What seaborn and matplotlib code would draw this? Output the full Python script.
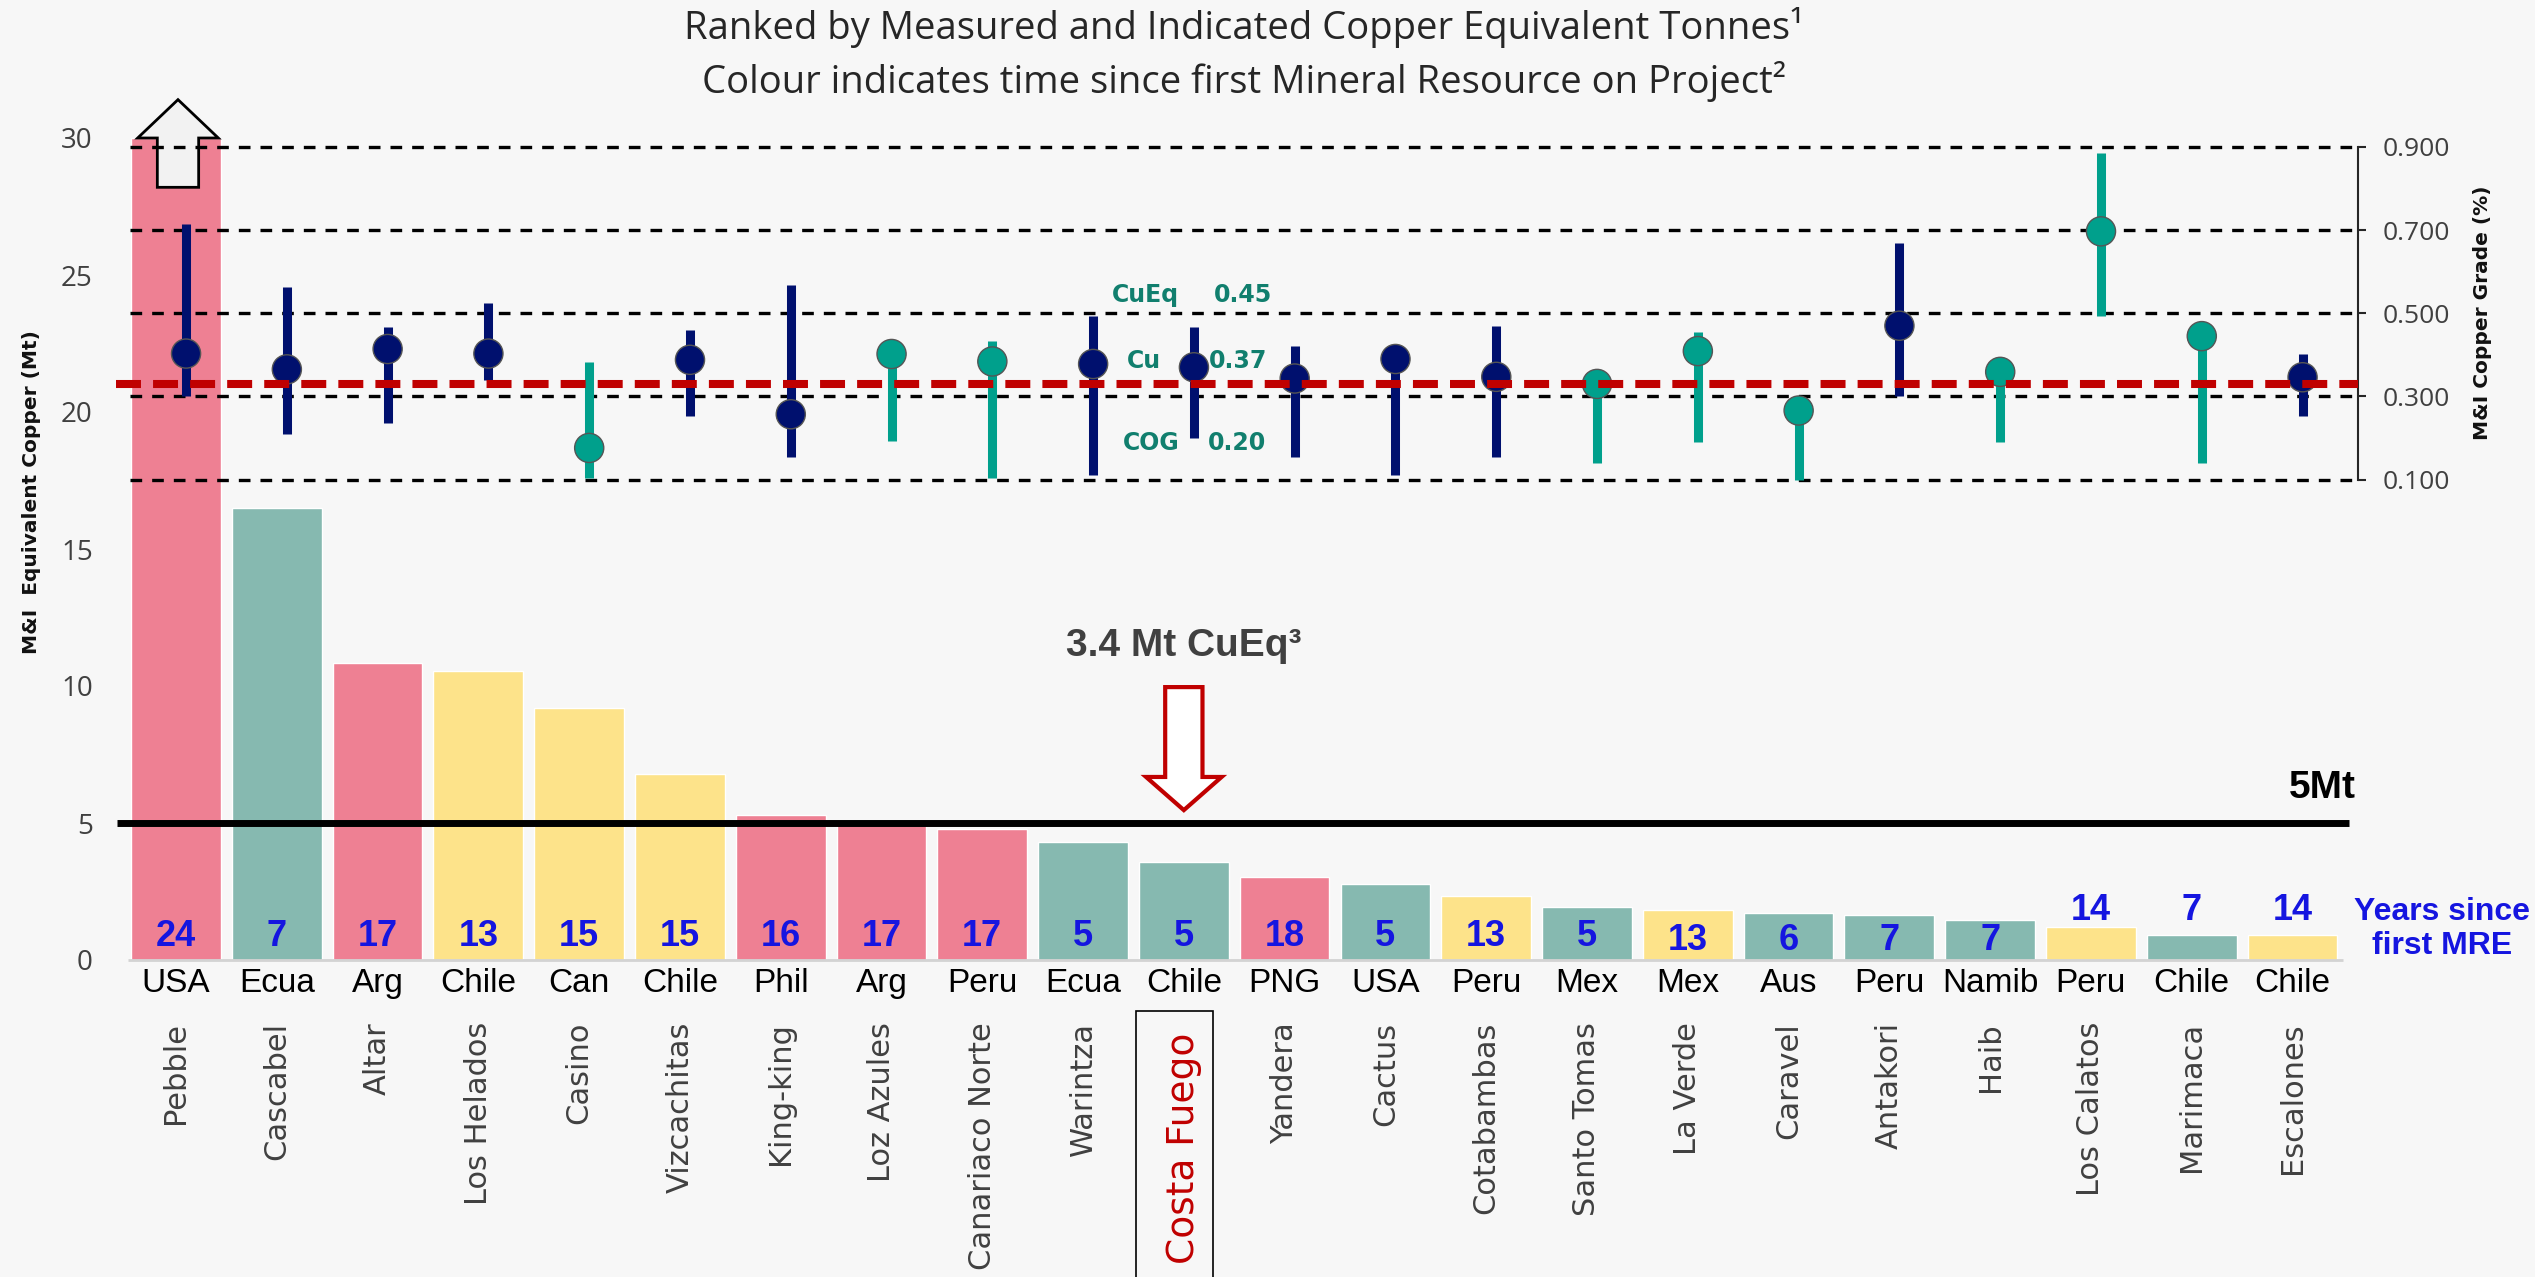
import numpy as np
import pandas as pd
import matplotlib
matplotlib.use('Agg')
import matplotlib.pyplot as plt
import matplotlib.transforms as mtransforms
from matplotlib.patches import FancyArrow, Rectangle
import seaborn as sns

projects = ['Pebble', 'Cascabel', 'Altar', 'Los Helados', 'Casino', 'Vizcachitas',
            'King-king', 'Loz Azules', 'Canariaco Norte', 'Warintza', 'Costa Fuego',
            'Yandera', 'Cactus', 'Cotabambas', 'Santo Tomas', 'La Verde', 'Caravel',
            'Antakori', 'Haib', 'Los Calatos', 'Marimaca', 'Escalones']
countries = ['USA', 'Ecua', 'Arg', 'Chile', 'Can', 'Chile', 'Phil', 'Arg', 'Peru', 'Ecua',
             'Chile', 'PNG', 'USA', 'Peru', 'Mex', 'Mex', 'Aus', 'Peru', 'Namib', 'Peru',
             'Chile', 'Chile']
mt_cueq = [30, 16.5, 10.85, 10.55, 9.2, 6.78, 5.3, 5.0, 4.78, 4.32, 3.59, 3.04,
           2.76, 2.33, 1.94, 1.83, 1.71, 1.66, 1.45, 1.21, 0.93, 0.93]
years = [24, 7, 17, 13, 15, 15, 16, 17, 17, 5, 5, 18, 5, 13, 5, 13, 6, 7, 7, 14, 7, 14]

# grade (%): dot, bottom and top of the range line
grade_cu = [0.403, 0.365, 0.414, 0.403, 0.176, 0.388, 0.257, 0.402, 0.384, 0.378, 0.37,
            0.343, 0.390, 0.347, 0.330, 0.409, 0.266, 0.470, 0.359, 0.697, 0.445, 0.346]
grade_low = [0.300, 0.210, 0.236, 0.339, 0.103, 0.253, 0.154, 0.193, 0.103, 0.111, 0.20,
             0.154, 0.111, 0.154, 0.139, 0.191, 0.100, 0.300, 0.191, 0.494, 0.139, 0.253]
grade_high = [0.714, 0.562, 0.468, 0.524, 0.382, 0.459, 0.567, 0.41, 0.433, 0.494, 0.467,
              0.421, 0.40, 0.470, 0.35, 0.455, 0.28, 0.670, 0.37, 0.886, 0.43, 0.403]
dot_group = ['A', 'A', 'A', 'A', 'B', 'A', 'A', 'B', 'B', 'A', 'A',
             'A', 'A', 'A', 'B', 'B', 'B', 'A', 'B', 'B', 'B', 'A']
grade_ticks = [0.1, 0.3, 0.5, 0.7, 0.9]
red_line = 0.33
cf_labels = ['CuEq', 'Cu', 'COG']
cf_values = ['0.45', '0.37', '0.20']

title1 = 'Ranked by Measured and Indicated Copper Equivalent Tonnes\u00b9'
title2 = 'Colour indicates time since first Mineral Resource on Project\u00b2'

sns.set_style('white')
plt.rcParams['font.family'] = ['DejaVu Sans']

df = pd.DataFrame({'project': projects, 'mt': mt_cueq, 'years': years})
df['age'] = pd.cut(df['years'], [0, 10, 15, 100], labels=['new', 'mid', 'old']).astype(str)
bar_pal = {'new': '#86B9B0', 'mid': '#FDE38A', 'old': '#EE8093'}
dot_pal = {'A': '#00106E', 'B': '#00A08C'}

bg = '#F7F7F7'
fig = plt.figure(figsize=(25.35, 12.77), dpi=100, facecolor=bg)
ax = fig.add_axes([115 / 2535, 1 - 960 / 1277, 2243 / 2535, 822 / 1277])
ax.set_facecolor('none')

sns.barplot(data=df, x='project', y='mt', hue='age', palette=bar_pal, order=projects,
            dodge=False, width=0.89, saturation=1, legend=False, ax=ax)
ax.set_xlim(-0.605, 21.65)
ax.set_ylim(0, 30)
ax.set_xticks([])
ax.set_xlabel('')
ax.set_ylabel('')
for s in ax.spines.values():
    s.set_visible(False)
ax.set_yticks(range(0, 31, 5))
ax.tick_params(axis='y', length=0, pad=16, labelsize=20, labelcolor='#404040')
for lbl in ax.get_yticklabels():
    lbl.set_fontfamily('Open Sans')

# baseline and 5Mt line
ax.hlines(0, -0.48, 21.5, color='#D3D3D3', lw=2, clip_on=False)
ax.hlines(5, -0.585, 21.56, color='black', lw=5, zorder=3)
ax.text(21.63, 6.28, '5Mt', ha='right', va='center', fontsize=28, fontweight='bold',
        family='Liberation Sans', color='black')

xs = np.arange(len(projects))
lab_font = dict(family='Liberation Sans', fontweight='bold', color='#1515E0', fontsize=26)
for i, (v, yr) in enumerate(zip(mt_cueq, years)):
    if v > 1.9:
        yy = 0.85
    elif v > 1.3:
        yy = 0.7
    else:
        yy = 1.82
    ax.text(i, yy, str(yr), ha='center', va='center', zorder=4, **lab_font)
ax.text(22.48, 1.13, 'Years since\nfirst MRE', ha='center', va='center', linespacing=1.2,
        clip_on=False, family='Liberation Sans', fontweight='bold', color='#1515E0',
        fontsize=23)

# names under the axis
trans = mtransforms.blended_transform_factory(ax.transData, ax.transAxes)
for i, (p, c) in enumerate(zip(projects, countries)):
    ax.text(i, -0.028, c, transform=trans, ha='center', va='center', fontsize=24,
            family='Liberation Sans', color='black')
    if p == 'Costa Fuego':
        ax.text(i, -0.0888, p, transform=trans, rotation=90, ha='center', va='top',
                fontsize=27, color='#C00000')
        ax.add_patch(Rectangle((i - 0.476, -0.40), 0.764, 0.338, transform=trans,
                               fill=False, ec='black', lw=1.2, clip_on=False))
    else:
        ax.text(i, -0.0754, p, transform=trans, rotation=90, ha='center', va='top',
                fontsize=22, color='#404040')

# arrows
ax.add_patch(FancyArrow(0.02, 28.2, 0, 3.2, width=0.41, head_width=0.80, head_length=1.4,
                        length_includes_head=True, fc='#F2F2F2', ec='black', lw=2,
                        clip_on=False, zorder=5))
cf = projects.index('Costa Fuego')
ax.add_patch(FancyArrow(cf, 9.96, 0, -4.49, width=0.37, head_width=0.75, head_length=1.21,
                        length_includes_head=True, fc='white', ec='#C00000', lw=3,
                        zorder=5))
ax.text(cf, 11.45, '3.4 Mt CuEq\u00b3', ha='center', va='center', fontsize=28,
        fontweight='bold', family='Liberation Sans', color='#404040')

# grade axis
ax2 = ax.twinx()
ax2.set_ylim(-1.0559, 0.9216)
ax2.set_xlim(-0.605, 21.65)
for k, s in ax2.spines.items():
    s.set_visible(k == 'right')
ax2.spines['right'].set_bounds(0.1, 0.9)
ax2.spines['right'].set_linewidth(1.5)
ax2.set_yticks(grade_ticks)
ax2.set_yticklabels([f'{g:.3f}' for g in grade_ticks])
ax2.tick_params(axis='y', length=6, width=1.5, pad=12, labelsize=19, labelcolor='#404040')
for lbl in ax2.get_yticklabels():
    lbl.set_fontfamily('Open Sans')

ax2.hlines(grade_ticks, -0.46, 21.65, colors='black', linestyles=(0, (3.5, 3)), lw=2.4,
           zorder=1)
gx = xs + 0.1
ax2.vlines(gx, grade_low, grade_high, colors=[dot_pal[g] for g in dot_group], lw=6.5,
           zorder=2)
sns.scatterplot(x=gx, y=grade_cu, hue=dot_group, palette=dot_pal, s=440,
                edgecolor='#555555', linewidth=1, legend=False, ax=ax2, zorder=3)
ax2.hlines(red_line, -0.6, 21.78, colors='#C00000', linestyles=(0, (3.1, 1.5)), lw=5.8,
           zorder=4)
ax2.set_ylabel('')

for lab, val, g, lx, vx in zip(cf_labels, cf_values, [0.544, 0.385, 0.188],
                               [9.62, 9.60, 9.68], [10.59, 10.54, 10.53]):
    ax2.text(lx, g, lab, ha='center', va='center', fontsize=17, fontweight='bold',
             color='#117F6E', zorder=6)
    ax2.text(vx, g, val, ha='center', va='center', fontsize=17, fontweight='bold',
             color='#117F6E', zorder=6)

fig.text(32 / 2535, 1 - 492 / 1277, 'M&I  Equivalent Copper (Mt)', rotation=90,
         ha='center', va='center', fontsize=14.5, fontweight='bold', color='#111111')
fig.text(2482 / 2535, 1 - 313 / 1277, 'M&I Copper Grade (%)', rotation=90,
         ha='center', va='center', fontsize=14.5, fontweight='bold', color='#111111')

fig.text(1244 / 2535, 1 - 28 / 1277, title1, ha='center', va='center', fontsize=27.5,
         family='Open Sans', color='#262626')
fig.text(1244 / 2535, 1 - 81 / 1277, title2, ha='center', va='center', fontsize=27.5,
         family='Open Sans', color='#262626')

fig.savefig('out.png', dpi=100, facecolor=bg)
